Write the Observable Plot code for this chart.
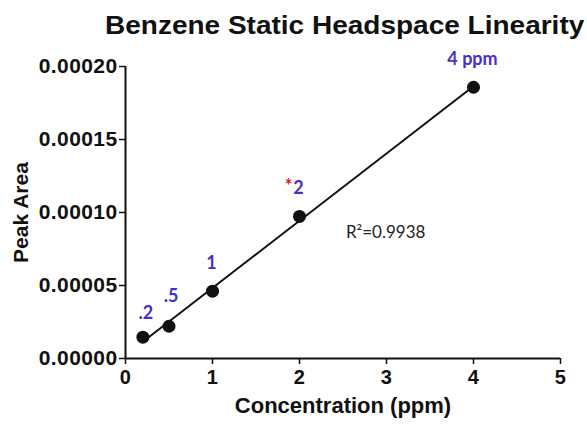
<!DOCTYPE html>
<html>
<head>
<meta charset="utf-8">
<script src="https://cdn.jsdelivr.net/npm/d3@7"></script>
<script src="https://cdn.jsdelivr.net/npm/@observablehq/plot@0.6"></script>
<style>
  html, body { margin: 0; padding: 0; background: #fff; }
  #title { height: 46px; padding-left: 105px; white-space: nowrap; }
  #title span { display: inline-block; font-family: "Liberation Sans", Arial, sans-serif; font-weight: bold; font-size: 25px;
           line-height: 50px; color: #111; transform: scaleX(1.12); transform-origin: left center; }
  #chart svg { display: block; }
  g[aria-label="y-axis tick label"] text { letter-spacing: 0.4px; }
  g[aria-label="x-axis tick label"] text { letter-spacing: 0.4px; }
  g[aria-label="x title"] text { letter-spacing: 0.9px; }
  g[aria-label="y title"] text { letter-spacing: 0.7px; }
</style>
</head>
<body>
<div id="title"><span>Benzene Static Headspace Linearity</span></div>
<div id="chart"></div>
<script>
const concentration = [0.2, 0.5, 1, 2, 4];
const peakArea = [0.0000146, 0.0000221, 0.0000461, 0.0000973, 0.0001858];
const pointLabels = [".2", ".5", "1", "2", "4 ppm"];
const flags = ["", "", "", "*", ""];
const xTicks = [0, 1, 2, 3, 4, 5];
const yTicks = [0, 0.00005, 0.0001, 0.00015, 0.0002];
const r2Text = "R\u00B2=0.9938";
const r2At = {x: 2.99, y: 0.0000863};

const data = concentration.map((c, i) => ({x: c, y: peakArea[i], label: pointLabels[i], flag: flags[i]}));
const blue = "#4430c8";
const labelFont = "Lato, 'Open Sans', sans-serif";

const chart = Plot.plot({
  width: 587,
  height: 378,
  marginLeft: 125,
  marginRight: 27,
  marginTop: 20,
  marginBottom: 66,
  style: {fontFamily: "'Liberation Sans', Arial, sans-serif", color: "#111", background: "white"},
  x: {domain: [0, 5], label: null},
  y: {domain: [0, 0.0002], label: null},
  marks: [
    Plot.axisX({ticks: xTicks, tickSize: 6, tickPadding: 5, fontSize: 20, fontWeight: "bold", strokeWidth: 1.5, tickFormat: d3.format("d")}),
    Plot.axisY({ticks: yTicks, tickSize: 6, tickPadding: 2, fontSize: 21, fontWeight: "bold", strokeWidth: 1.5, tickFormat: d3.format(".5f")}),
    Plot.ruleY([0], {strokeWidth: 2, stroke: "#111"}),
    Plot.ruleX([0], {strokeWidth: 2, stroke: "#111"}),
    Plot.linearRegressionY(data, {x: "x", y: "y", ci: 0, stroke: "#111", strokeWidth: 2}),
    Plot.dot(data, {x: "x", y: "y", r: 6.5, fill: "#111", stroke: "none"}),
    Plot.text(data.filter((d, i) => i === 0), {x: "x", y: "y", text: "label", dx: 3, dy: -24, fill: blue, fontSize: 18, fontWeight: "bold", fontFamily: labelFont}),
    Plot.text(data.filter((d, i) => i === 1), {x: "x", y: "y", text: "label", dx: 2, dy: -30, fill: blue, fontSize: 18, fontWeight: "bold", fontFamily: labelFont}),
    Plot.text(data.filter((d, i) => i >= 2), {x: "x", y: "y", text: "label", dx: -1, dy: -28, fill: blue, fontSize: 18, fontWeight: "bold", fontFamily: labelFont}),
    Plot.text(data.filter(d => d.flag), {x: "x", y: "y", text: "flag", dx: -11, dy: -30, fill: "#e02020", fontSize: 18, fontWeight: "bold", fontFamily: labelFont}),
    Plot.text([r2At], {x: "x", y: "y", text: () => r2Text, fill: "#222", fontSize: 17, fontFamily: labelFont}),
    Plot.text(["Concentration (ppm)"], {ariaLabel: "x title", frameAnchor: "bottom", dy: 54, text: d => d, fontSize: 22, fontWeight: "bold", fill: "#111"}),
    Plot.text(["Peak Area"], {ariaLabel: "y title", frameAnchor: "left", dx: -104, rotate: -90, textAnchor: "middle", text: d => d, fontSize: 21, fontWeight: "bold", fill: "#111"})
  ]
});
document.getElementById("chart").appendChild(chart);
</script>
</body>
</html>
